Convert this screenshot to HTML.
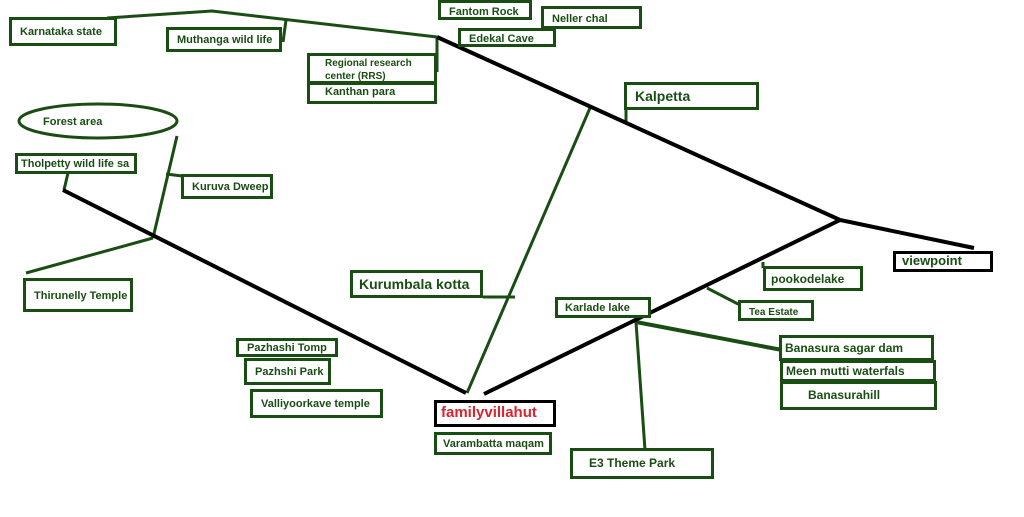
<!DOCTYPE html>
<html><head><style>
body{margin:0;width:1024px;height:517px;background:#fff;overflow:hidden;position:relative;font-family:"Liberation Sans",sans-serif}
.b{position:absolute;border:3px solid #1a4d14;box-sizing:border-box;color:#1a4d14;font-weight:bold;font-size:11px;padding:3px 8px;background:#fff;white-space:nowrap;line-height:14px}
svg{position:absolute;left:0;top:0}
</style></head><body>
<svg width="1024" height="517">
<g stroke="#1a4d14" stroke-width="3" fill="none">
<polyline points="107,18 212,11 290,20 437,37"/>
<line x1="286" y1="20" x2="283" y2="42"/>
<line x1="437" y1="37" x2="437" y2="72"/>
<line x1="590" y1="108" x2="467" y2="393"/>
<line x1="68" y1="173" x2="64" y2="190"/>
<line x1="177" y1="136" x2="153" y2="238"/>
<line x1="153" y1="238" x2="26" y2="273"/>
<line x1="166" y1="174" x2="182" y2="176"/>
<line x1="626" y1="107" x2="626" y2="124"/>
<line x1="483" y1="297" x2="515" y2="297"/>
<line x1="763" y1="262" x2="763" y2="268"/>
<line x1="707" y1="288" x2="740" y2="305"/>
<line x1="636" y1="322" x2="645" y2="450"/>
<line x1="636" y1="322" x2="782" y2="350" stroke-width="4"/>
<ellipse cx="98" cy="121" rx="79" ry="17"/>
</g>
<g stroke="#000" stroke-width="4" fill="none">
<line x1="63" y1="190" x2="466" y2="393"/>
<polyline points="437,37 840,220 974,248"/>
<line x1="484" y1="394" x2="840" y2="220"/>
</g>
<text x="43" y="125" font-size="11" font-weight="bold" fill="#1a4d14" font-family="Liberation Sans">Forest area</text>
</svg>
<div class="b" style="left:9px;top:17px;width:108px;height:29px;padding-top:5px">Karnataka state</div>
<div class="b" style="left:166px;top:27px;width:116px;height:25px">Muthanga wild life</div>
<div class="b" style="left:438px;top:0px;width:94px;height:20px;padding-top:2px">Fantom Rock</div>
<div class="b" style="left:541px;top:6px;width:101px;height:23px">Neller chal</div>
<div class="b" style="left:458px;top:28px;width:98px;height:19px;padding-top:1px">Edekal Cave</div>
<div class="b" style="left:307px;top:53px;width:130px;height:31px;padding:1px 15px;font-size:10px;line-height:13px">Regional research<br>center (RRS)</div>
<div class="b" style="left:307px;top:82px;width:130px;height:22px;padding:0 15px">Kanthan para</div>
<div class="b" style="left:624px;top:82px;width:135px;height:28px;font-size:14px;padding-top:4px">Kalpetta</div>
<div class="b" style="left:15px;top:153px;width:122px;height:21px;padding:1px 3px">Tholpetty wild life sa</div>
<div class="b" style="left:181px;top:174px;width:92px;height:25px">Kuruva Dweep</div>
<div class="b" style="left:23px;top:278px;width:110px;height:34px;padding-top:8px">Thirunelly Temple</div>
<div class="b" style="left:350px;top:270px;width:133px;height:28px;font-size:14px;padding:4px 6px">Kurumbala kotta</div>
<div class="b" style="left:893px;top:251px;width:100px;height:21px;border-color:#000;font-size:13px;padding:0 6px">viewpoint</div>
<div class="b" style="left:763px;top:266px;width:100px;height:25px;font-size:12px;padding:3px 5px">pookodelake</div>
<div class="b" style="left:738px;top:300px;width:76px;height:21px;font-size:10px">Tea Estate</div>
<div class="b" style="left:555px;top:297px;width:96px;height:21px;padding:1px 7px">Karlade lake</div>
<div class="b" style="left:779px;top:335px;width:155px;height:26px;font-size:12px;padding:3px 3px">Banasura sagar dam</div>
<div class="b" style="left:780px;top:360px;width:156px;height:22px;font-size:12px;padding:1px 3px">Meen mutti waterfals</div>
<div class="b" style="left:780px;top:381px;width:157px;height:29px;font-size:12px;padding:4px 25px">Banasurahill</div>
<div class="b" style="left:236px;top:338px;width:102px;height:19px;padding:0 8px">Pazhashi Tomp</div>
<div class="b" style="left:244px;top:358px;width:87px;height:27px;padding-top:4px">Pazhshi Park</div>
<div class="b" style="left:250px;top:389px;width:133px;height:29px;padding-top:5px">Valliyoorkave temple</div>
<div class="b" style="left:434px;top:400px;width:122px;height:27px;border-color:#000;color:#d8242c;font-size:15px;padding:3px 4px">familyvillahut</div>
<div class="b" style="left:434px;top:432px;width:118px;height:23px;padding:2px 6px">Varambatta maqam</div>
<div class="b" style="left:570px;top:448px;width:144px;height:31px;font-size:12px;padding:5px 16px">E3 Theme Park</div>
</body></html>
